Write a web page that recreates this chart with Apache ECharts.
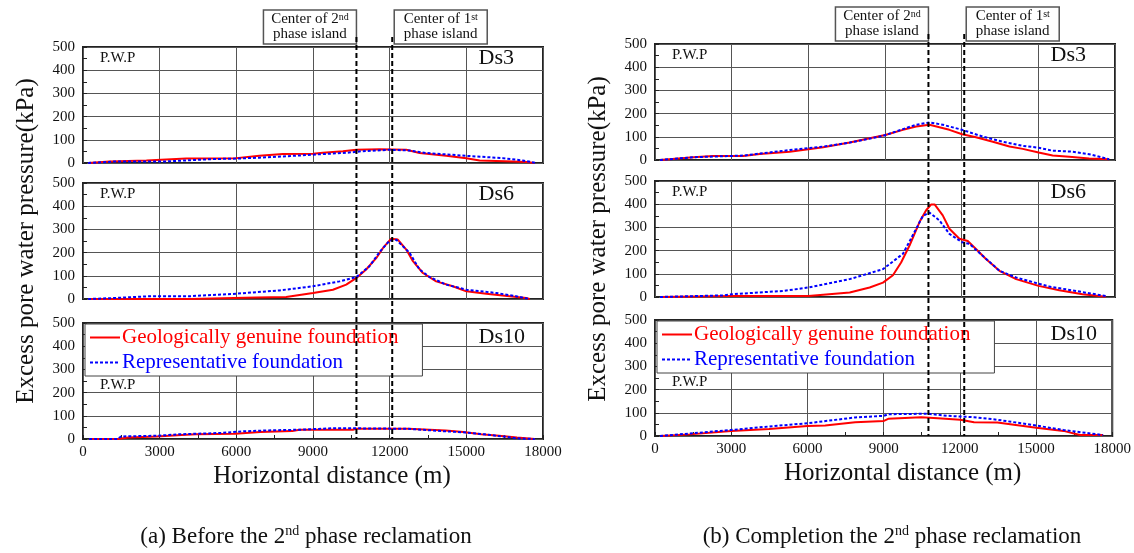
<!DOCTYPE html>
<html><head><meta charset="utf-8">
<script src="https://cdn.jsdelivr.net/npm/echarts/dist/echarts.min.js"></script>
<style>html,body{margin:0;padding:0;background:#fff}#c{width:1134px;height:553px}</style>
</head><body><div id="c"></div>
<script>
// ---------- DATA ----------
const panelNames = ['Ds3', 'Ds6', 'Ds10'];
const seriesNames = ['Geologically genuine foundation', 'Representative foundation'];
const captions = ['(a) Before the 2', '(b) Completion the 2'];
const islandCenters = [10700, 12100]; // m : centre of 2nd / 1st phase island
const xTicks = [0, 3000, 6000, 9000, 12000, 15000, 18000];

// (a) Before the 2nd phase reclamation
const aDs3GeoX = [200,1040,2480,4040,6000,6900,7820,9000,9390,10170,10700,11600,12650,13170,14210,15000,15520,16820,17340,17670];
const aDs3GeoY = [0,6,11,19,21,31,39,40,44,51,57,59,57,43,31,20,11,6,4,0];
const aDs3RepX = [200,1170,3130,4040,5090,6000,6900,7950,9000,10300,10950,12000,12780,13430,14210,15000,16430,17210,17730];
const aDs3RepY = [0,6,6,11,17,19,23,29,36,44,51,57,54,43,37,31,21,11,0];

const aDs6GeoX = [200,4170,6780,7950,9000,9780,10300,10700,11080,11480,11740,12060,12320,12650,12910,13300,13820,14470,15000,15780,16690,17340,17480];
const aDs6GeoY = [0,0,7,9,26,40,62,91,127,177,220,260,256,213,163,112,76,55,33,23,12,4,0];
const aDs6RepX = [200,1170,2670,4170,5870,7690,9000,10040,10700,11210,11610,12000,12260,12780,13170,13560,14210,15000,16170,16950,17480];
const aDs6RepY = [0,4,12,12,22,37,55,76,95,141,203,252,255,199,127,95,62,40,26,12,0];

const aDs10GeoX = [240,1350,1770,2890,3860,4420,5960,6930,8190,8470,10560,10700,12720,12790,14190,14880,15580,16280,16980,17680];
const aDs10GeoY = [0,0,6,11,17,20,23,30,34,40,40,44,44,40,37,30,20,14,6,0];
const aDs10RepX = [240,1350,1490,2890,3720,5400,6240,7210,8470,9720,10700,12720,12790,14050,14880,15720,16420,16980,17680];
const aDs10RepY = [0,0,11,14,20,26,33,37,40,46,46,44,40,34,29,20,11,3,0];

// (b) Completion of the 2nd phase reclamation
const bDs3GeoX = [195,1500,2280,3450,4100,5270,6000,6580,7620,8400,9010,9700,10220,10740,11130,11520,12020,12560,13220,13870,14390,15010,15560,16210,16990,17770];
const bDs3GeoY = [0,12,17,17,26,36,46,55,75,94,108,130,144,152,141,130,111,98,79,58,48,32,19,14,6,3];
const bDs3RepX = [195,1500,3450,5270,6580,7620,8920,9700,10220,10740,11260,12020,12820,13600,14390,15010,15560,16340,17120,17770];
const bDs3RepY = [0,12,19,43,58,75,104,133,152,162,152,130,101,79,61,53,40,36,22,3];

const bDs6GeoX = [195,3000,6000,6580,7620,8400,8920,9310,9630,9960,10350,10610,10810,10940,11260,11520,11910,12240,12560,12950,13480,14130,15010,15820,16730,17640];
const bDs6GeoY = [0,4,4,10,19,41,62,94,149,222,323,374,399,399,352,294,251,241,207,164,113,77,48,29,12,1];
const bDs6RepX = [195,2670,3000,5010,6000,7620,8920,9700,10220,10480,10740,11130,11520,12020,12300,12820,13480,14130,15430,16470,17640];
const bDs6RepY = [0,7,12,26,41,77,120,186,294,349,364,330,272,236,229,178,113,84,45,26,4];

const bDs10GeoX = [195,1370,3000,4490,6000,6700,7880,9010,9180,10480,11130,12020,12560,13480,14130,15010,16080,16730,17640];
const bDs10GeoY = [0,7,22,30,43,45,59,65,74,81,77,70,59,58,48,36,22,4,4];
const bDs10RepX = [195,1500,3000,4490,6000,7880,9010,9180,10740,11520,12560,13480,15010,16080,17640];
const bDs10RepY = [0,12,26,41,55,80,87,94,96,87,81,70,45,26,4];

// ---------- LAYOUT ----------
const FONT = '"Liberation Serif", "Times New Roman", serif';
const gridLeft = [83, 655];
const gridWidth = 460;
const gridTops = [[47, 183, 323], [44, 181, 320]];
const gridH = 116;

const curves = [
  [[aDs3GeoX, aDs3GeoY, aDs3RepX, aDs3RepY], [aDs6GeoX, aDs6GeoY, aDs6RepX, aDs6RepY], [aDs10GeoX, aDs10GeoY, aDs10RepX, aDs10RepY]],
  [[bDs3GeoX, bDs3GeoY, bDs3RepX, bDs3RepY], [bDs6GeoX, bDs6GeoY, bDs6RepX, bDs6RepY], [bDs10GeoX, bDs10GeoY, bDs10RepX, bDs10RepY]]
];
const zip = (xs, ys) => xs.map((x, i) => [x, ys[i]]);

const grids = [], xAxes = [], yAxes = [], series = [], legends = [];
for (let s = 0; s < 2; s++) {
  for (let p = 0; p < 3; p++) {
    const gi = s * 3 + p;
    const bottom = p === 2;
    grids.push({left: gridLeft[s], top: gridTops[s][p], width: gridWidth, height: gridH,
      show: true, borderColor: '#222', borderWidth: 2, backgroundColor: 'transparent'});
    xAxes.push({type: 'value', gridIndex: gi, min: xTicks[0], max: xTicks[xTicks.length - 1], interval: 3000,
      axisLine: {show: false},
      axisTick: {show: bottom, inside: true, length: 4, lineStyle: {color: '#222'}},
      minorTick: {show: bottom, splitNumber: 2, length: 4, lineStyle: {color: '#222'}},
      axisLabel: {show: bottom, fontFamily: FONT, fontSize: 15, color: '#111', margin: 6, formatter: v => String(v)},
      splitLine: {show: true, lineStyle: {color: '#555', width: 1}},
      name: bottom ? 'Horizontal distance (m)' : '',
      nameLocation: 'middle', nameGap: 25,
      nameTextStyle: {fontFamily: FONT, fontSize: 25, color: '#111', padding: [0, 0, 0, 38]}
    });
    yAxes.push({type: 'value', gridIndex: gi, min: 0, max: 500, interval: 100,
      axisLine: {show: false},
      axisTick: {show: true, inside: true, length: 4, lineStyle: {color: '#222'}},
      minorTick: {show: true, splitNumber: 2, length: 4, lineStyle: {color: '#222'}},
      axisLabel: {fontFamily: FONT, fontSize: 15, color: '#111', margin: 8},
      splitLine: {show: true, lineStyle: {color: '#555', width: 1}},
      name: p === 1 ? 'Excess pore water pressure(kPa)' : '',
      nameLocation: 'middle', nameGap: 44,
      nameTextStyle: {fontFamily: FONT, fontSize: 25, color: '#111'}
    });
    const c = curves[s][p];
    series.push({name: seriesNames[0], type: 'line', xAxisIndex: gi, yAxisIndex: gi, data: zip(c[0], c[1]),
      symbol: 'none', lineStyle: {color: '#ff0000', width: 2}, itemStyle: {color: '#ff0000'}, z: 3, animation: false});
    series.push({name: seriesNames[1], type: 'line', xAxisIndex: gi, yAxisIndex: gi, data: zip(c[2], c[3]),
      symbol: 'none', lineStyle: {color: '#0000ff', width: 2, type: [3, 2]}, itemStyle: {color: '#0000ff'}, z: 4, animation: false});
  }
  legends.push({left: gridLeft[s] + 2, top: gridTops[s][2] + 1, orient: 'vertical',
    itemWidth: 30, itemHeight: 14, itemGap: 4,
    backgroundColor: '#fff', borderColor: '#444', borderWidth: 1, padding: [3, 24, 3, 4],
    selectedMode: false,
    itemStyle: {opacity: 0},
    textStyle: {fontFamily: FONT, fontSize: 21, padding: [0, 0, 0, -3]},
    data: [{name: seriesNames[0], textStyle: {color: '#ff0000'}}, {name: seriesNames[1], textStyle: {color: '#0000ff'}}]
  });
}

const chart = echarts.init(document.getElementById('c'), null, {renderer: 'canvas'});
chart.setOption({animation: false, grid: grids, xAxis: xAxes, yAxis: yAxes, series: series, legend: legends});

// ---------- ANNOTATIONS (positions from the chart's own scales) ----------
const g = [];
for (let s = 0; s < 2; s++) {
  const top0 = gridTops[s][0];
  const bot = gridTops[s][2] + gridH;
  const xs = islandCenters.map(v => chart.convertToPixel({xAxisIndex: s * 3}, v));
  xs.forEach(px => {
    g.push({type: 'line', z: 100, shape: {x1: px, y1: top0 - 10, x2: px, y2: bot},
      style: {stroke: '#000', lineWidth: 2, lineDash: [5, 3]}});
  });
  const boxW = 93, boxH = 34, boxTop = top0 - 37;
  const boxes = [{x: xs[0] - boxW, sup: 'nd'}, {x: xs[1] + 2, sup: 'st'}];
  boxes.forEach(b => {
    g.push({type: 'rect', z: 90, shape: {x: b.x, y: boxTop, width: boxW, height: boxH},
      style: {fill: '#fff', stroke: '#555', lineWidth: 1.5}});
    g.push({type: 'text', z: 91, x: b.x + boxW / 2, y: boxTop + boxH / 2,
      style: {text: '{a|Center of ' + (b.sup === 'nd' ? '2' : '1') + '}{s|' + b.sup + '}\n{a|phase island}',
        align: 'center', verticalAlign: 'middle', fontFamily: FONT, fill: '#111',
        rich: {a: {fontFamily: FONT, fontSize: 15, lineHeight: 15, fill: '#111'},
               s: {fontFamily: FONT, fontSize: 10, lineHeight: 15, verticalAlign: 'top', fill: '#111', padding: [0, 0, 6, 0]}}}});
  });
  for (let p = 0; p < 3; p++) {
    const t = gridTops[s][p];
    g.push({type: 'text', z: 50, x: gridLeft[s] + 17, y: p === 2 ? t + 62 : t + 11,
      style: {text: 'P.W.P', fontFamily: FONT, fontSize: 15, fill: '#111', verticalAlign: 'middle'}});
    g.push({type: 'text', z: 50, x: gridLeft[s] + gridWidth - (p === 2 ? 18 : 29), y: p === 2 ? t + 14 : t + 11,
      style: {text: panelNames[p], fontFamily: FONT, fontSize: 22, fill: '#111', align: 'right', verticalAlign: 'middle'}});
  }
  g.push({type: 'text', z: 50, x: [306, 892][s], y: 537,
    style: {text: '{a|' + captions[s] + '}{s|nd}{a| phase reclamation}', align: 'center', verticalAlign: 'middle',
      rich: {a: {fontFamily: FONT, fontSize: 23, lineHeight: 26, fill: '#111'},
             s: {fontFamily: FONT, fontSize: 14, lineHeight: 26, verticalAlign: 'top', fill: '#111', padding: [0, 0, 10, 0]}}}});
}
chart.setOption({graphic: g});
</script></body></html>
